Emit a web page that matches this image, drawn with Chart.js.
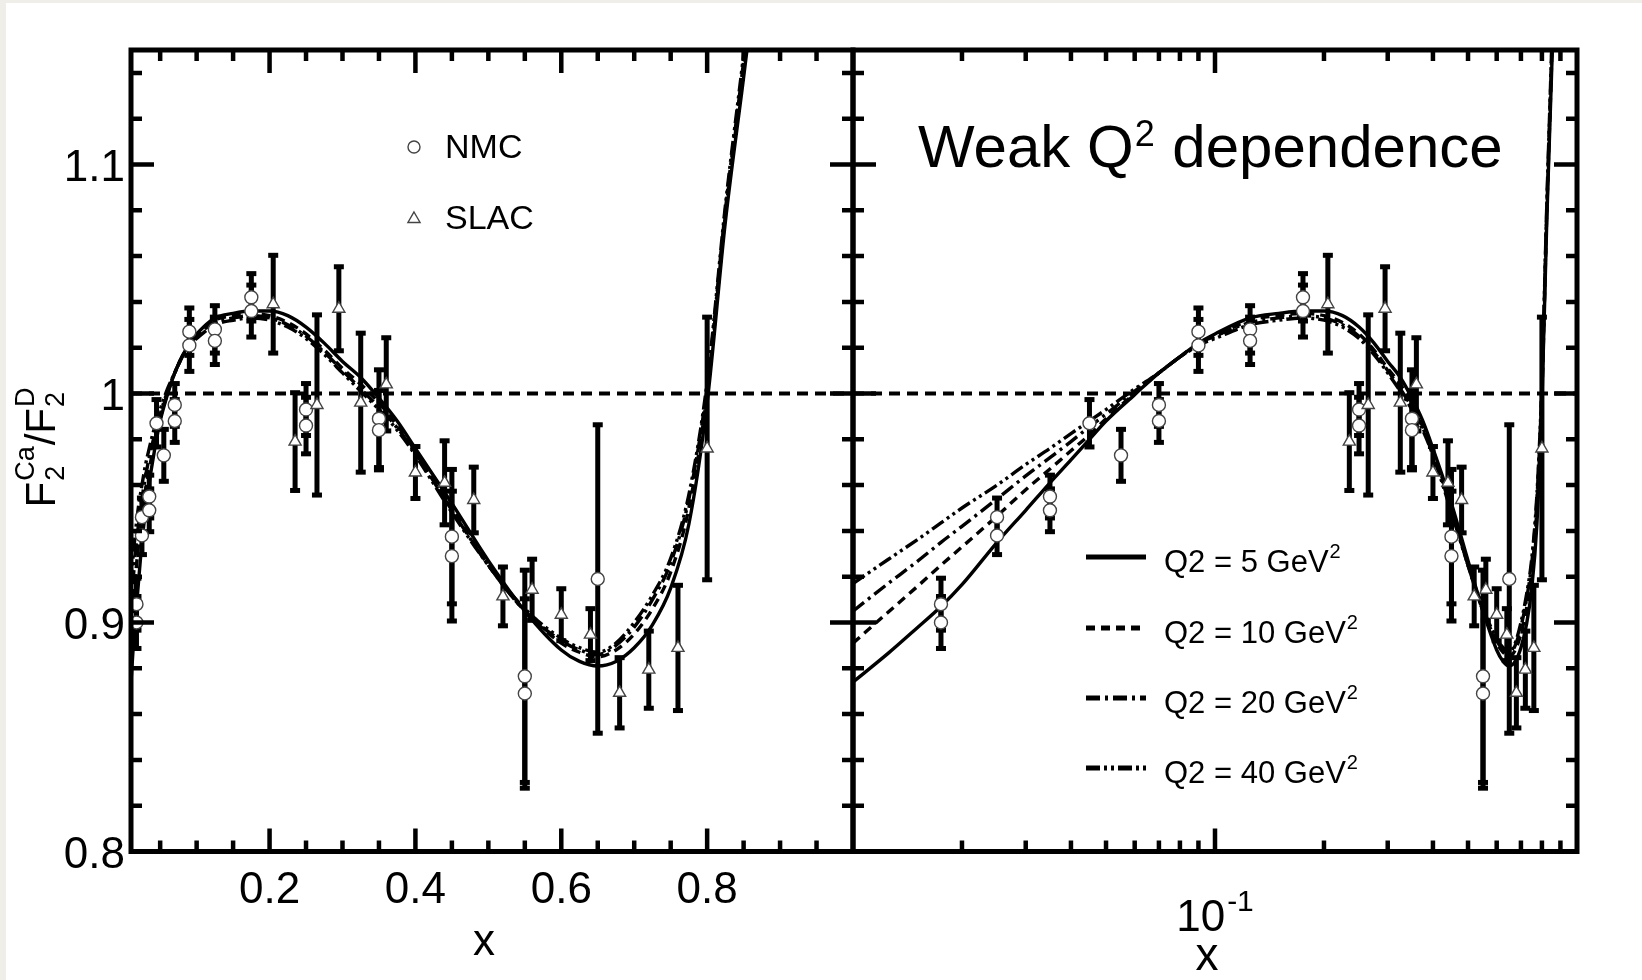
<!DOCTYPE html>
<html lang="en">
<head>
<meta charset="utf-8">
<title>F2 Ca / F2 D</title>
<script src="https://cdn.jsdelivr.net/npm/chart.js@4.4.1/dist/chart.umd.min.js"></script>
<style>
  html, body { margin: 0; padding: 0; }
  body { width: 1642px; height: 980px; background: #efeee8; position: relative; overflow: hidden; }
  #sheet { position: absolute; left: 6px; top: 3px; right: 0; bottom: 0; background: #fff; }
  canvas { position: absolute; top: 0; }
  #linChart { left: 0; }
  #logChart { left: 848px; }
</style>
</head>
<body>
<div id="sheet"></div>
<canvas id="linChart" width="858" height="980"></canvas>
<canvas id="logChart" width="794" height="980"></canvas>
<script>
// model curves
const curveX = [0.01, 0.0125, 0.015, 0.0175, 0.02, 0.025, 0.03, 0.035, 0.04, 0.045, 0.05, 0.06, 0.07, 0.08, 0.09, 0.1,
  0.125, 0.15, 0.175, 0.2, 0.225, 0.25, 0.275, 0.3, 0.325, 0.35, 0.375, 0.4, 0.45, 0.5, 0.55, 0.6, 0.625, 0.65, 0.675,
  0.7, 0.725, 0.75, 0.775, 0.8, 0.825, 0.85, 0.87];
const q2_5 = [0.874, 0.8865, 0.8975, 0.907, 0.9165, 0.935, 0.949, 0.961, 0.971, 0.980, 0.988, 0.9995, 1.009, 1.016, 1.022, 1.026,
  1.033, 1.035, 1.036, 1.036, 1.034, 1.029, 1.022, 1.014, 1.007, 0.998, 0.988, 0.976, 0.952, 0.927, 0.905, 0.888, 0.883, 0.881, 0.883,
  0.889, 0.899, 0.915, 0.943, 0.996, 1.075, 1.138, 1.190];
const q2_10 = [0.891, 0.9045, 0.9155, 0.925, 0.933, 0.9465, 0.958, 0.967, 0.975, 0.982, 0.989, 1.000, 1.009, 1.016, 1.022, 1.025,
  1.032, 1.034, 1.035, 1.034, 1.031, 1.026, 1.019, 1.011, 1.004, 0.996, 0.986, 0.975, 0.950, 0.925, 0.905, 0.891, 0.887, 0.885, 0.888,
  0.895, 0.906, 0.922, 0.950, 1.000, 1.078, 1.142, 1.195];
const q2_20 = [0.905, 0.917, 0.9265, 0.935, 0.942, 0.954, 0.964, 0.972, 0.979, 0.9855, 0.991, 1.001, 1.009, 1.016, 1.021, 1.025,
  1.031, 1.033, 1.034, 1.033, 1.030, 1.025, 1.018, 1.010, 1.002, 0.994, 0.985, 0.974, 0.949, 0.925, 0.905, 0.892, 0.888, 0.886, 0.890,
  0.898, 0.910, 0.926, 0.954, 1.003, 1.080, 1.145, 1.200];
const q2_40 = [0.917, 0.9275, 0.936, 0.9435, 0.950, 0.960, 0.969, 0.976, 0.9825, 0.988, 0.993, 1.002, 1.009, 1.016, 1.021, 1.024,
  1.030, 1.032, 1.033, 1.032, 1.029, 1.024, 1.017, 1.009, 1.001, 0.993, 0.984, 0.973, 0.948, 0.925, 0.906, 0.893, 0.889, 0.887, 0.891,
  0.900, 0.912, 0.928, 0.956, 1.005, 1.082, 1.148, 1.205];

// NMC points (circles)
const nmcX = [0.0175, 0.0175, 0.025, 0.025, 0.035, 0.035, 0.045, 0.055, 0.07, 0.07, 0.09, 0.09, 0.125, 0.125,
  0.175, 0.175, 0.25, 0.25, 0.35, 0.35, 0.45, 0.45, 0.55, 0.55, 0.65];
const nmcY = [0.908, 0.900, 0.946, 0.938, 0.955, 0.949, 0.987, 0.973, 0.995, 0.988, 1.027, 1.021, 1.028, 1.023,
  1.042, 1.036, 0.993, 0.986, 0.989, 0.984, 0.9375, 0.929, 0.8765, 0.869, 0.919];
const nmcErr = [0.012, 0.012, 0.009, 0.009, 0.010, 0.010, 0.011, 0.012, 0.010, 0.010, 0.011, 0.012, 0.011, 0.011,
  0.011, 0.012, 0.012, 0.013, 0.022, 0.018, 0.030, 0.029, 0.047, 0.042, 0.068];

// SLAC points (triangles)
const slacX = [0.205, 0.235, 0.265, 0.295, 0.325, 0.36, 0.40, 0.44, 0.48, 0.52, 0.56, 0.60, 0.64, 0.68, 0.72, 0.76, 0.80];
const slacY = [1.039, 0.979, 0.995, 1.037, 0.996, 1.004, 0.9655, 0.961, 0.9535, 0.9114, 0.9143, 0.9034, 0.8947, 0.8693,
  0.8794, 0.8889, 0.976];
const slacErr = [0.022, 0.022, 0.040, 0.019, 0.031, 0.021, 0.012, 0.019, 0.015, 0.0135, 0.014, 0.012, 0.012, 0.016,
  0.0175, 0.028, 0.058];

const yTicks = [0.8, 0.9, 1.0, 1.1];
const yTickLabels = ['0.8', '0.9', '1', '1.1'];
const linTicks = [0.2, 0.4, 0.6, 0.8];
const linTickLabels = ['0.2', '0.4', '0.6', '0.8'];
const q2Values = ['5', '10', '20', '40'];

const yMajor = [0.9, 1.0, 1.1];
const yMinor = [0.82, 0.84, 0.86, 0.88, 0.92, 0.94, 0.96, 0.98, 1.02, 1.04, 1.06, 1.08, 1.12, 1.14];
const linMinor = [0.05, 0.1, 0.15, 0.25, 0.3, 0.35, 0.45, 0.5, 0.55, 0.65, 0.7, 0.75, 0.85, 0.9, 0.95];
const logMajor = [0.1];
const logMinor = [0.02, 0.03, 0.04, 0.05, 0.06, 0.07, 0.08, 0.09, 0.2, 0.3, 0.4, 0.5, 0.6, 0.7, 0.8, 0.9];

const FONT = '"Liberation Sans", Arial, Helvetica, sans-serif';
const dashes = [[], [9, 6], [14, 5, 3, 5], [14, 4, 3, 4, 3, 4]];

const pts = (xs, ys) => xs.map((x, i) => ({ x: x, y: ys[i] }));

function curve(label, ys, dash) {
  return {
    label: label, data: pts(curveX, ys), showLine: true, pointRadius: 0,
    borderColor: '#000', borderWidth: 3.4, borderDash: dash,
    cubicInterpolationMode: 'monotone', fill: false
  };
}

function buildDatasets(xmin) {
  return [
    { label: 'SLAC', data: pts(slacX, slacY), errors: slacErr, pointStyle: 'triangle', pointRadius: 7,
      backgroundColor: '#fff', borderColor: '#444', borderWidth: 1.4 },
    { label: 'NMC', data: pts(nmcX, nmcY), errors: nmcErr, pointStyle: 'circle', pointRadius: 6.5,
      backgroundColor: '#fff', borderColor: '#444', borderWidth: 1.4 },
    curve('Q2 = 5 GeV2', q2_5, dashes[0]),
    curve('Q2 = 10 GeV2', q2_10, dashes[1]),
    curve('Q2 = 20 GeV2', q2_20, dashes[2]),
    curve('Q2 = 40 GeV2', q2_40, dashes[3]),
    { label: 'unity', data: [{ x: xmin, y: 1 }, { x: 1, y: 1 }], showLine: true, pointRadius: 0,
      borderColor: '#000', borderWidth: 4, borderDash: [11, 7] }
  ];
}

function drawErrorBars(chart) {
  const { ctx, chartArea: a, scales: { x, y } } = chart;
  ctx.save();
  ctx.beginPath();
  ctx.rect(a.left, a.top, a.right - a.left, a.bottom - a.top);
  ctx.clip();
  ctx.fillStyle = '#000';
  chart.data.datasets.forEach(ds => {
    if (!ds.errors) return;
    ds.data.forEach((p, i) => {
      const px = x.getPixelForValue(p.x);
      const top = y.getPixelForValue(p.y + ds.errors[i]);
      const bot = y.getPixelForValue(p.y - ds.errors[i]);
      ctx.fillRect(px - 2.5, top, 5, bot - top);
      ctx.fillRect(px - 5, top - 1, 10, 5);
      ctx.fillRect(px - 5, bot - 4, 10, 5);
    });
  });
  ctx.restore();
}

function text(ctx, str, x, y, size, align) {
  ctx.font = size + 'px ' + FONT;
  ctx.textAlign = align || 'left';
  ctx.textBaseline = 'alphabetic';
  ctx.fillStyle = '#000';
  ctx.fillText(str, x, y);
  return ctx.measureText(str).width;
}

function framePlugin(cfg) {
  return {
    id: 'frame',
    beforeDatasetsDraw(chart) { drawErrorBars(chart); },
    afterDatasetsDraw(chart) {
      const { ctx, chartArea: a, scales: { x, y } } = chart;
      ctx.save();
      ctx.strokeStyle = '#000';
      ctx.lineWidth = 4.5;
      ctx.setLineDash([]);
      const xTick = (v, len) => {
        const px = x.getPixelForValue(v);
        ctx.beginPath();
        ctx.moveTo(px, a.bottom); ctx.lineTo(px, a.bottom - len);
        ctx.moveTo(px, a.top); ctx.lineTo(px, a.top + len);
        ctx.stroke();
      };
      const yTick = (v, len) => {
        const py = y.getPixelForValue(v);
        ctx.beginPath();
        ctx.moveTo(a.left, py); ctx.lineTo(a.left + len, py);
        ctx.moveTo(a.right, py); ctx.lineTo(a.right - len, py);
        ctx.stroke();
      };
      cfg.xMinor.forEach(v => xTick(v, 11));
      cfg.xMajor.forEach(v => xTick(v, 23));
      yMinor.forEach(v => yTick(v, 11));
      yMajor.forEach(v => yTick(v, 23));
      ctx.lineWidth = 5;
      ctx.strokeRect(a.left, a.top, a.right - a.left, a.bottom - a.top);
      ctx.restore();
      ctx.save();
      cfg.decorate(chart);
      ctx.restore();
    }
  };
}

function marker(ctx, style, r, cx, cy) {
  ctx.fillStyle = '#fff';
  ctx.strokeStyle = '#444';
  ctx.lineWidth = 1.4;
  ctx.setLineDash([]);
  Chart.helpers.drawPoint(ctx, { pointStyle: style, radius: r, borderWidth: 1.4 }, cx, cy);
}

function decorateLinear(chart) {
  const { ctx, scales: { x, y } } = chart;
  yTicks.forEach((v, i) => text(ctx, yTickLabels[i], 125, y.getPixelForValue(v) + 16, 44, 'right'));
  linTicks.forEach((v, i) => text(ctx, linTickLabels[i], x.getPixelForValue(v), 903, 44, 'center'));
  text(ctx, 'x', 484, 955, 44, 'center');

  // y axis title F2^Ca / F2^D, rotated
  ctx.save();
  ctx.translate(40, 447);
  ctx.rotate(-Math.PI / 2);
  const big = 42, small = 27;
  const pieces = [['F', 'Ca', '2'], ['/F', 'D', '2']];
  let total = 0;
  const widths = pieces.map(p => {
    ctx.font = big + 'px ' + FONT;
    const wMain = ctx.measureText(p[0]).width;
    ctx.font = small + 'px ' + FONT;
    const wIdx = Math.max(ctx.measureText(p[1]).width, ctx.measureText(p[2]).width);
    total += wMain + wIdx + 2;
    return [wMain, wIdx];
  });
  let cx = -total / 2;
  pieces.forEach((p, i) => {
    text(ctx, p[0], cx, 15, big);
    cx += widths[i][0] + 1;
    text(ctx, p[1], cx, -6, small);
    text(ctx, p[2], cx, 24, small);
    cx += widths[i][1] + 1;
  });
  ctx.restore();

  // data legend
  marker(ctx, 'circle', 6, 414, 147);
  text(ctx, 'NMC', 445, 158, 34);
  marker(ctx, 'triangle', 7, 414, 219);
  text(ctx, 'SLAC', 445, 229, 34);
}

function decorateLog(chart) {
  const { ctx, scales: { x } } = chart;
  const ox = 848;
  // 10^-1 tick label
  ctx.font = '44px ' + FONT;
  const wTen = ctx.measureText('10').width;
  ctx.font = '30px ' + FONT;
  const wExp = ctx.measureText('-1').width;
  const startX = x.getPixelForValue(0.1) - (wTen + wExp + 2) / 2;
  text(ctx, '10', startX, 931, 44);
  text(ctx, '-1', startX + wTen + 2, 911, 30);
  text(ctx, 'x', 1207 - ox, 970, 46, 'center');

  // annotation
  let tx = 918 - ox;
  tx += text(ctx, 'Weak Q', tx, 167, 60);
  tx += text(ctx, '2', tx + 1, 146, 36) + 2;
  text(ctx, ' dependence', tx, 167, 60);

  // Q2 legend
  const rows = [557, 628, 698, 768];
  chart.data.datasets.slice(2, 6).forEach((ds, i) => {
    ctx.save();
    ctx.strokeStyle = '#000';
    ctx.lineWidth = 5;
    ctx.setLineDash(ds.borderDash);
    ctx.beginPath();
    ctx.moveTo(1086 - ox, rows[i]);
    ctx.lineTo(1146 - ox, rows[i]);
    ctx.stroke();
    ctx.restore();
    const w = text(ctx, 'Q2 = ' + q2Values[i] + ' GeV', 1164 - ox, rows[i] + 15, 31);
    text(ctx, '2', 1164 - ox + w + 1, rows[i] + 1, 20);
  });
}

function makeChart(id, xScale, padding, cfg, xmin) {
  return new Chart(document.getElementById(id).getContext('2d'), {
    type: 'scatter',
    data: { datasets: buildDatasets(xmin) },
    options: {
      responsive: false,
      animation: false,
      events: [],
      layout: { padding: padding, autoPadding: false },
      plugins: { legend: { display: false }, tooltip: { enabled: false } },
      scales: {
        x: Object.assign({ display: false }, xScale),
        y: { type: 'linear', min: 0.8, max: 1.15, display: false }
      }
    },
    plugins: [framePlugin(cfg)]
  });
}

makeChart('linChart', { type: 'linear', min: 0.01, max: 1 },
  { left: 131, right: 5, top: 50, bottom: 128.5 },
  { xMinor: linMinor, xMajor: linTicks, decorate: decorateLinear }, 0.01);

makeChart('logChart', { type: 'logarithmic', min: 0.01, max: 1 },
  { left: 5, right: 65, top: 50, bottom: 128.5 },
  { xMinor: logMinor, xMajor: logMajor, decorate: decorateLog }, 0.01);
</script>
</body>
</html>
